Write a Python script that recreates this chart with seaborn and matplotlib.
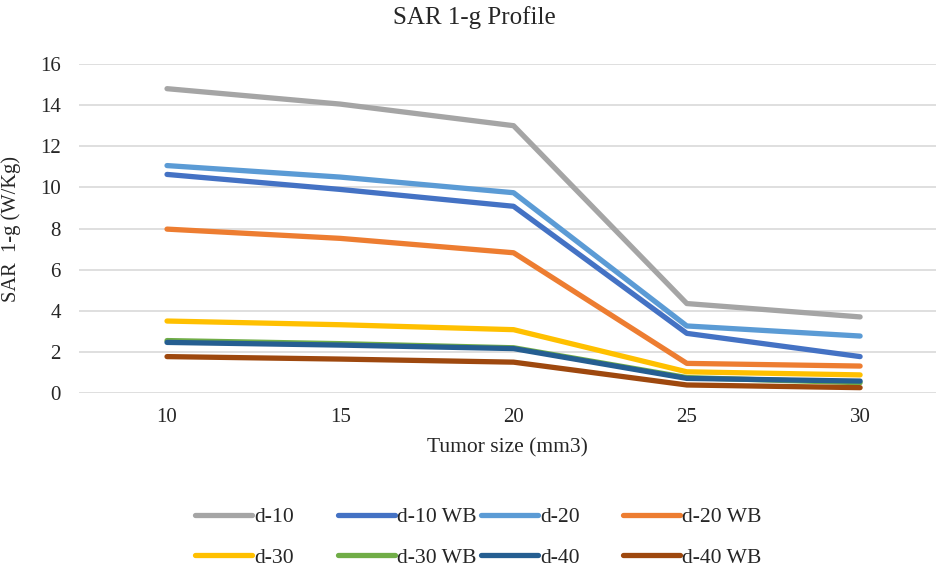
import matplotlib
matplotlib.use("Agg")
import matplotlib.pyplot as plt
import seaborn as sns
import pandas as pd

sizes = [10, 15, 20, 25, 30]
series_names = ["d-10", "d-10 WB", "d-20", "d-20 WB", "d-30", "d-30 WB", "d-40", "d-40 WB"]
d10 = [14.8, 14.05, 13.0, 4.35, 3.7]
d10_wb = [10.63, 9.9, 9.08, 2.9, 1.77]
d20 = [11.06, 10.5, 9.74, 3.26, 2.77]
d20_wb = [7.97, 7.52, 6.82, 1.44, 1.31]
d30 = [3.5, 3.32, 3.08, 1.03, 0.88]
d30_wb = [2.55, 2.4, 2.2, 0.75, 0.5]
d40 = [2.46, 2.33, 2.16, 0.71, 0.58]
d40_wb = [1.77, 1.65, 1.5, 0.39, 0.26]
colors = ["#A5A5A5", "#4472C4", "#5B9BD5", "#ED7D31", "#FFC000", "#70AD47", "#255E91", "#9E480E"]

values = [d10, d10_wb, d20, d20_wb, d30, d30_wb, d40, d40_wb]
rows = []
for name, vals in zip(series_names, values):
    for s, v in zip(sizes, vals):
        rows.append({"size": s, "SAR": v, "series": name})
df = pd.DataFrame(rows)

sns.set_theme(style="white")
plt.rcParams["font.family"] = ["Liberation Serif", "DejaVu Serif"]

W, H = 936, 567
fig = plt.figure(figsize=(W / 100, H / 100), dpi=100)
ax = fig.add_axes([79 / W, (H - 393) / H, (936 - 79) / W, (393 - 64) / H])

sns.lineplot(data=df, x="size", y="SAR", hue="series", hue_order=series_names,
             palette=colors, linewidth=3.8, ax=ax, legend=False,
             solid_capstyle="round", solid_joinstyle="round")

ax.set_ylim(0, 16)
ax.set_xlim(7.46, 32.19)
ax.set_yticks(range(0, 17, 2))
ax.set_xticks(sizes)
ax.grid(axis="y", color="#D9D9D9", linewidth=1.2)
ax.set_axisbelow(True)
for sp in ax.spines.values():
    sp.set_visible(False)
ax.tick_params(axis="y", length=0, pad=13, labelsize=15)
ax.tick_params(axis="x", length=0, pad=11, labelsize=15)
ax.set_xlabel("Tumor size (mm3)", fontsize=15.5, labelpad=8)
ax.set_ylabel("SAR  1-g (W/Kg)", fontsize=14.8, labelpad=14)
fig.text((392 + 557) / 2 / W, 1 - 18 / H, "SAR 1-g Profile", ha="center", va="center", fontsize=18)

lines = ax.get_lines()
col_x = [195, 338, 481, 623]
for c in range(4):
    hs = [lines[c], lines[c + 4]]
    labs = [series_names[c], series_names[c + 4]]
    fig.legend(hs, labs, loc="upper left", bbox_to_anchor=(col_x[c] / W, 1 - 507 / H),
               frameon=False, fontsize=15.6, handlelength=2.62, handletextpad=0.1,
               borderpad=0, borderaxespad=0, labelspacing=0.95)

fig.savefig("out.png", dpi=100)
